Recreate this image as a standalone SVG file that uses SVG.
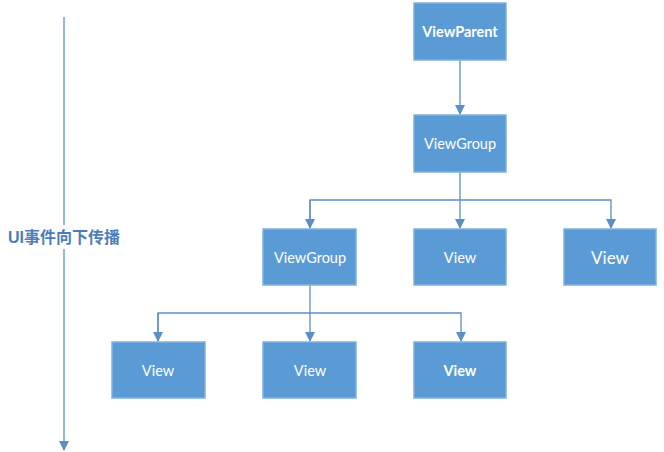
<svg xmlns="http://www.w3.org/2000/svg" width="664" height="452" viewBox="0 0 664 452">
<style>
.box{fill:#5b9bd5;stroke:#7fb1e0;stroke-width:1.5}
.t{font-family:Lato,"Open Sans","Liberation Sans",sans-serif;font-size:14.5px;fill:#ffffff;text-anchor:middle;dominant-baseline:central}
.b{font-weight:bold}
.c{fill:none;stroke:#5b8fc7;stroke-width:1.3}
.lbl{font-family:"Liberation Sans","Noto Sans CJK SC",sans-serif;font-size:16px;font-weight:bold;fill:#4a7ebb}
</style>
<defs>
<marker id="ah" markerWidth="10" markerHeight="10" refX="9" refY="5" orient="auto" markerUnits="userSpaceOnUse">
<path d="M0,0 L10,5 L0,10 z" fill="#5b8fc7"/>
</marker>
</defs>
<rect x="0" y="0" width="664" height="452" fill="#ffffff"/>
<g id="connectors">
<line class="c" x1="64" y1="17" x2="64" y2="450" marker-end="url(#ah)"/>
<line class="c" x1="460" y1="60" x2="460" y2="114" marker-end="url(#ah)"/>
<path class="c" d="M460,172 V200"/>
<path class="c" d="M310,228 V200 H611 V228" marker-end="url(#ah)"/>
<line class="c" x1="310" y1="200" x2="310" y2="228" marker-end="url(#ah)"/>
<line class="c" x1="460" y1="200" x2="460" y2="228" marker-end="url(#ah)"/>
<path class="c" d="M310,285 V313"/>
<path class="c" d="M158,341 V313 H461 V341" marker-end="url(#ah)"/>
<line class="c" x1="158" y1="313" x2="158" y2="341" marker-end="url(#ah)"/>
<line class="c" x1="310" y1="313" x2="310" y2="341" marker-end="url(#ah)"/>
</g>
<g id="label"><rect x="6" y="225" width="118" height="24" fill="#ffffff"/><text class="lbl" x="8" y="243">UI事件向下传播</text></g>
<g id="viewparent"><rect class="box" x="414" y="3" width="92" height="57"/><text class="t b" x="460" y="31">ViewParent</text></g>
<g id="viewgroup1"><rect class="box" x="414" y="115" width="92" height="57"/><text class="t" x="460" y="143">ViewGroup</text></g>
<g id="viewgroup2"><rect class="box" x="263" y="229" width="93" height="56"/><text class="t" x="310" y="257">ViewGroup</text></g>
<g id="view1"><rect class="box" x="414" y="229" width="92" height="56"/><text class="t" x="460" y="257">View</text></g>
<g id="view2"><rect class="box" x="564" y="229" width="92" height="56"/><text class="t" x="610" y="257" style="font-size:17px">View</text></g>
<g id="view3"><rect class="box" x="112" y="342" width="93" height="56"/><text class="t" x="158" y="370">View</text></g>
<g id="view4"><rect class="box" x="263" y="342" width="93" height="56"/><text class="t" x="310" y="370">View</text></g>
<g id="view5"><rect class="box" x="414" y="342" width="92" height="56"/><text class="t b" x="460" y="370">View</text></g>
</svg>
